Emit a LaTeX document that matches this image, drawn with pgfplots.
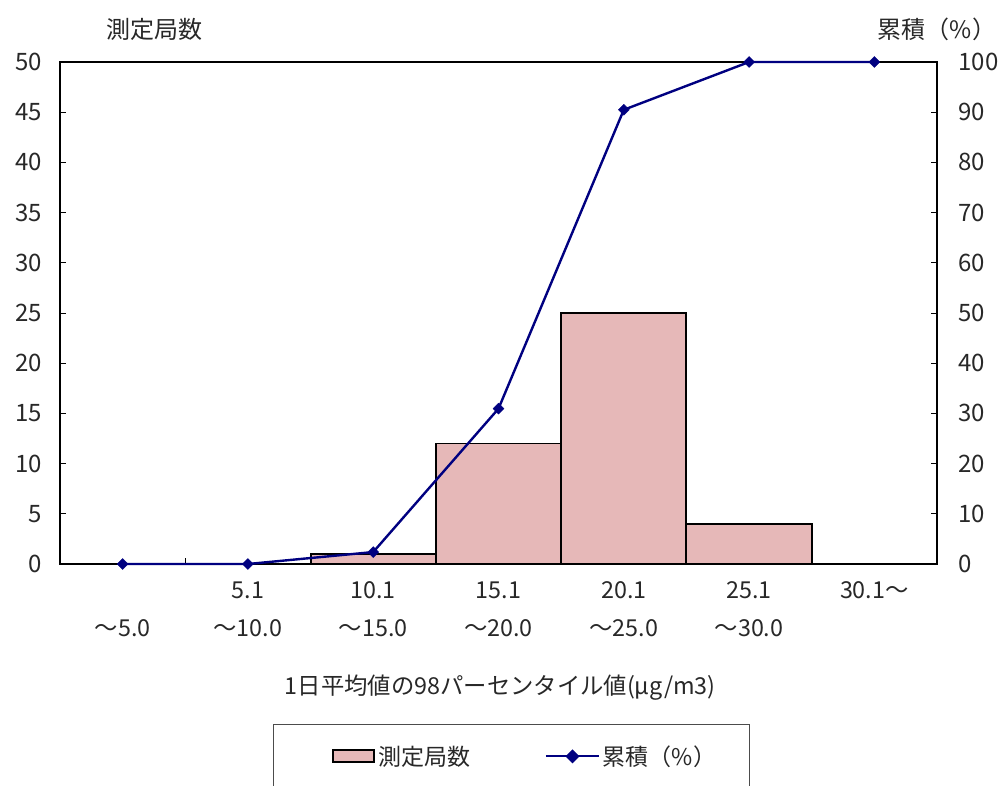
\documentclass[border=0pt]{standalone}
\usepackage{fontspec}
\setmainfont{Noto Sans CJK JP}
\usepackage{pgfplots}
\pgfplotsset{compat=1.18}
\usetikzlibrary{calc}
\definecolor{barpink}{RGB}{230,184,184}
\definecolor{navyline}{RGB}{0,0,128}
\definecolor{txt}{RGB}{40,40,40}

\begin{document}
\begin{tikzpicture}
  \pgfplotsset{
    common/.style={
      scale only axis,
      width=657.75pt,
      height=376.5pt,
      xmin=-0.5, xmax=6.5,
      ymin=0,
      clip=false,
      tick align=inside,
      major tick length=4.5pt,
      tick style={black, line width=0.6pt},
      /pgf/number format/assume math mode=true,
      tick label style={font=\fontsize{18}{20}\selectfont, text=txt},
    },
  }
  % bars: 測定局数
  \begin{axis}[
    common,
    name=ax,
    ymax=50,
    ytick={0,5,...,50},
    ytick pos=left,
    xtick pos=bottom,
    yticklabel style={xshift=-10pt},
    axis line style={black, line width=1.5pt},
    xtick={0,...,6},
    xtick style={draw=none},
    xticklabels={
      {\vphantom{5.1}\\～5.0},
      {5.1\\～10.0},
      {10.1\\～15.0},
      {15.1\\～20.0},
      {20.1\\～25.0},
      {25.1\\～30.0},
      {30.1～\\\vphantom{5.1}}},
    xticklabel style={align=center, font=\fontsize{17.5}{28.5}\selectfont, yshift=-10pt},
    extra x ticks={0.5},
    extra x tick labels={},
    extra x tick style={xtick style={draw=black, line width=0.8pt}},
  ]
    \addplot[ybar, bar width=1, fill=barpink, draw=black, line width=1.4pt]
      coordinates {(0,0) (1,0) (2,1) (3,12) (4,25) (5,4) (6,0)};
    \coordinate (SW) at (rel axis cs:0,0);
    \coordinate (NE) at (rel axis cs:1,1);
    \node[font=\fontsize{18}{20}\selectfont, text=txt] at (rel axis cs:0.108,1.064) {測定局数};
    \node[font=\fontsize{18}{20}\selectfont, text=txt] at (rel axis cs:1.0,1.064) {累積（\%）};
    \node[font=\fontsize{17.5}{20}\selectfont, text=txt] at (rel axis cs:0.502,-0.247) {1日平均値の98パーセンタイル値(µg/m3)};
  \end{axis}
  % line: 累積(%)
  \begin{axis}[
    common,
    ymax=100,
    ytick={0,10,...,100},
    axis y line*=right,
    axis x line=none,
    y axis line style={black, line width=1.5pt},
    yticklabel style={xshift=12.5pt},
    legend columns=2,
    legend style={
      at={(0.515,-0.318)}, anchor=north,
      draw=black!70, line width=0.8pt,
      font=\fontsize{17.25}{20}\selectfont,
      inner xsep=23pt, inner ysep=14pt,
      /tikz/every even column/.append style={column sep=54pt},
      nodes={text=txt, inner xsep=2pt},
    },
  ]
    \addlegendimage{legend image code/.code={
        \path (-21pt,0pt);
        \draw[fill=barpink, draw=black, line width=1.6pt] (0pt,-4.5pt) rectangle (31pt,4.5pt);}}
    \addlegendentry{測定局数}
    \addplot[navyline, line width=1.8pt, mark=square*, mark size=2.9pt,
      mark options={fill=navyline, draw=navyline, line width=0.3pt, rotate=45},
      legend image code/.code={
        \draw[navyline, line width=1.6pt] (0pt,0pt) -- (40pt,0pt);
        \fill[navyline] (20pt,0pt) +(-4pt,0pt) -- +(0pt,4pt) -- +(4pt,0pt) -- +(0pt,-4pt) -- cycle;}]
      coordinates {(0,0) (1,0) (2,2.38) (3,30.95) (4,90.48) (5,100) (6,100)};
    \addlegendentry{累積（\%）}
  \end{axis}
  \pgfresetboundingbox
  \path[use as bounding box] ($(SW)+(-45pt,-165.75pt)$) rectangle ($(NE)+(48.75pt,46.5pt)$);
\end{tikzpicture}
\end{document}
